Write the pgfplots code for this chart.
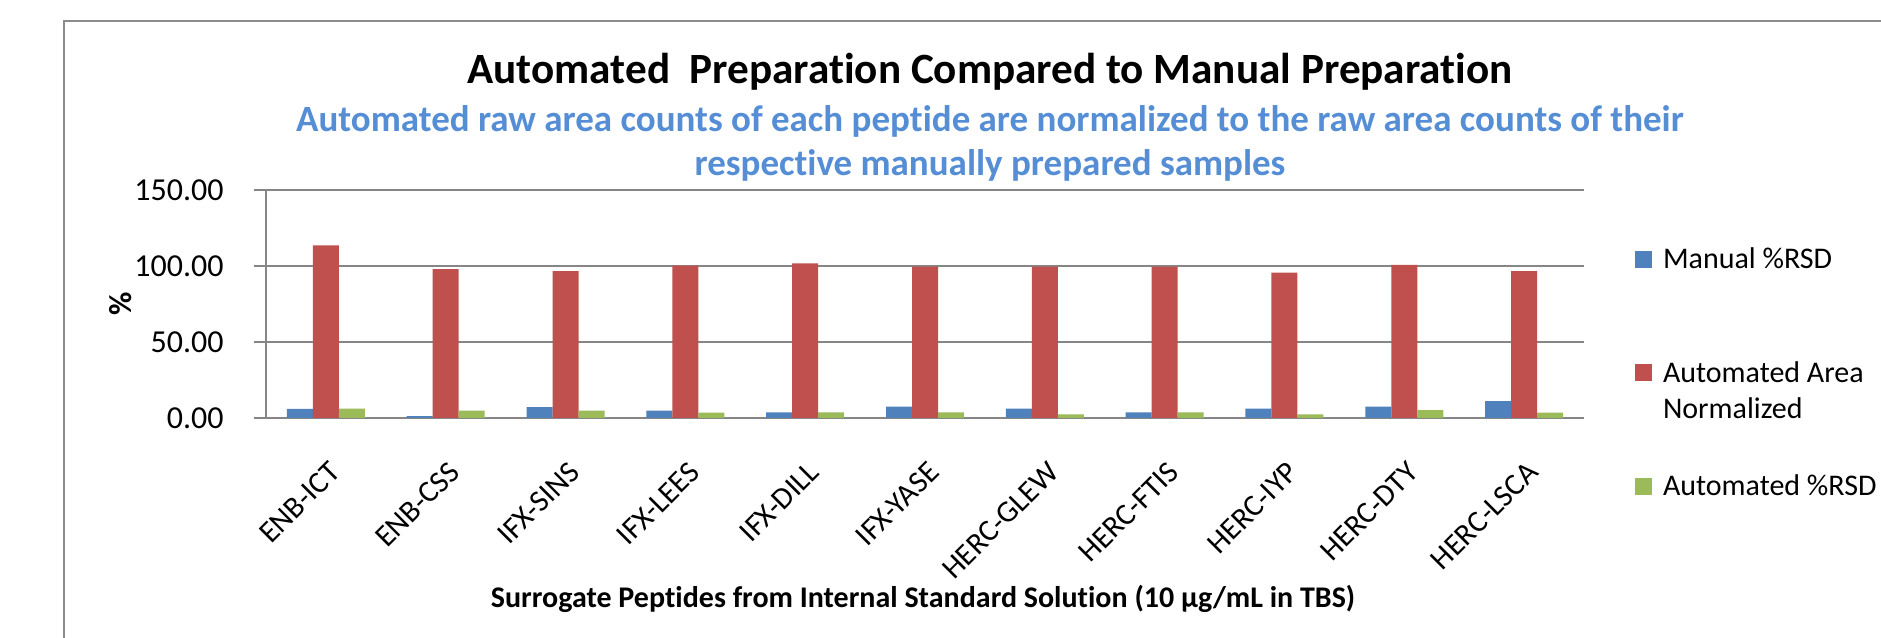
\documentclass[border=0pt]{standalone}
\usepackage{pgfplots}
\usepackage{pgfplotstable}
\pgfplotsset{compat=1.18}
\usepackage{fontspec}
\setmainfont{Carlito}[Ligatures=NoCommon]
\definecolor{cblue}{HTML}{4F81BD}
\definecolor{cred}{HTML}{C0504D}
\definecolor{cgreen}{HTML}{9BBB59}
\definecolor{cgrid}{HTML}{868686}
\definecolor{cborder}{HTML}{8C8C8C}
\definecolor{csub}{HTML}{558ED5}
\pgfplotsset{sqleg/.style={legend image code/.code={\fill[##1] (0bp,4.5bp) rectangle (8.5bp,13bp);}}}

\pgfplotstableread{
x manual autoarea autorsd
0 6.0 113.6 6.1
1 1.3 97.9 4.8
2 7.2 96.6 4.8
3 4.8 100.3 3.5
4 3.7 101.8 3.7
5 7.5 99.6 3.7
6 6.2 99.6 2.4
7 3.7 99.6 3.7
8 6.2 95.6 2.4
9 7.5 100.7 5.1
10 11.1 96.7 3.6
}\datatable

\begin{document}
\begin{tikzpicture}
\useasboundingbox (0,0) rectangle (940.5bp,319bp);
\fill[white] (0,0) rectangle (940.5bp,319bp);
\draw[cborder, line width=1.2bp] (32bp,-5bp) -- (32bp,308.5bp) -- (950bp,308.5bp);

\node[anchor=base, font=\fontsize{21.6bp}{25bp}\selectfont\bfseries] at (495bp,277bp) {Automated\ \ Preparation Compared to Manual Preparation};
\node[anchor=base, text=csub, font=\fontsize{18.5bp}{22bp}\selectfont\bfseries] at (495bp,253bp) {Automated raw area counts of each peptide are normalized to the raw area counts of their};
\node[anchor=base, text=csub, font=\fontsize{18.5bp}{22bp}\selectfont\bfseries] at (495bp,231bp) {respective manually prepared samples};

\begin{axis}[
  at={(133bp,110bp)}, anchor=south west,
  width=659bp, height=114bp, scale only axis,
  ybar=0pt, bar width=13bp,
  xmin=-0.5, xmax=10.5, ymin=0, ymax=150,
  xtick={0,1,2,3,4,5,6,7,8,9,10},
  xticklabels={ENB-ICT,ENB-CSS,IFX-SINS,IFX-LEES,IFX-DILL,IFX-YASE,HERC-GLEW,HERC-FTIS,HERC-IYP,HERC-DTY,HERC-LSCA},
  ytick={0,50,100,150},
  axis x line*=bottom, axis y line*=left,
  axis line style={-, cgrid, line width=0.75bp},
  ymajorgrids, grid style={cgrid, line width=0.75bp},
  tick align=outside, major tick length=6bp,
  xtick style={draw=none},
  ytick style={cgrid, line width=0.75bp},
  /pgf/number format/assume math mode=true,
  yticklabel style={/pgf/number format/.cd, fixed, fixed zerofill, precision=2, /tikz/.cd,
     anchor=east, inner sep=0pt, xshift=-15bp, font=\fontsize{16bp}{19bp}\selectfont},
  xticklabel style={xshift=4.5bp, yshift=-18.5bp, rotate=45, anchor=east, inner sep=0pt,
     font=\fontsize{15.3bp}{18bp}\selectfont},
  ylabel={\%},
  ylabel style={at={(axis description cs:-0.110,0.5)}, anchor=center, inner sep=0pt,
     font=\fontsize{16bp}{19bp}\selectfont\bfseries},
  xlabel={Surrogate Peptides from Internal Standard Solution (10 µg/mL in TBS)},
  xlabel style={at={(axis description cs:0.4985,-0.829)}, anchor=base, inner sep=0pt,
     font=\fontsize{15bp}{18bp}\selectfont\bfseries},
  legend cell align=left,
  legend style={at={(axis description cs:1.0387,0.7588)}, anchor=north west,
     draw=none, fill=none, inner sep=0pt, outer sep=0pt,
     column sep=5.5bp, row sep=24.75bp,
     font=\fontsize{15bp}{18bp}\selectfont,
     nodes={inner sep=0pt, text height=12bp, text depth=20bp}},
]
\addplot[fill=cblue, draw=none, sqleg] table[x=x, y=manual] {\datatable};
\addlegendentry{Manual \%RSD}
\addplot[fill=cred, draw=none, sqleg] table[x=x, y=autoarea] {\datatable};
\addlegendentry{\parbox[t]{110bp}{Automated Area\\Normalized}}
\addplot[fill=cgreen, draw=none, sqleg] table[x=x, y=autorsd] {\datatable};
\addlegendentry{Automated \%RSD}
\end{axis}
\end{tikzpicture}
\end{document}
